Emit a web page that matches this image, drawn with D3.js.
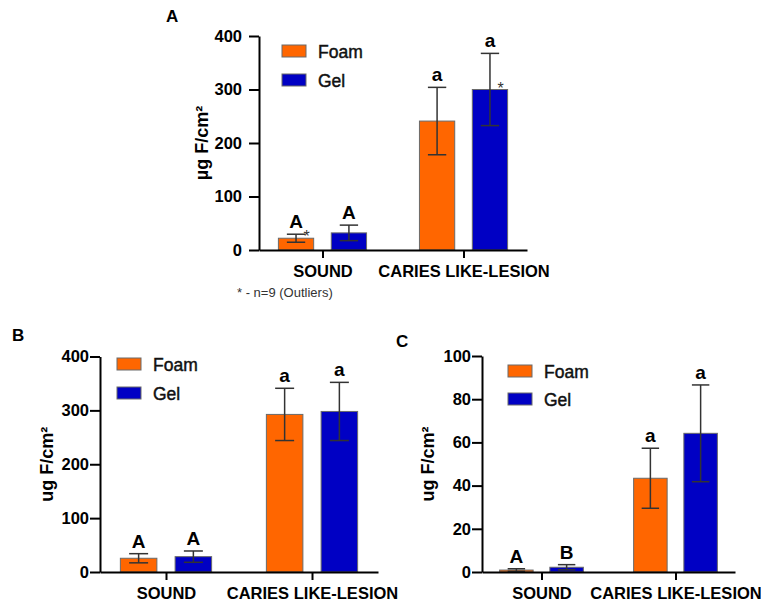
<!DOCTYPE html>
<html>
<head>
<meta charset="utf-8">
<script src="https://cdn.jsdelivr.net/npm/d3@7"></script>
<style>
  body { margin: 0; background: #fff; }
  svg { display: block; font-family: "Liberation Sans", Arial, sans-serif; }
</style>
</head>
<body>
<svg width="761" height="602"></svg>
<script>
const categories = ["SOUND", "CARIES LIKE-LESION"]
const series = ["Foam", "Gel"]
const colors = ["#ff6600", "#0000c4"]

// panel A
const aFoam = [22, 241]
const aFoamSd = [7.5, 63]
const aGel = [32, 300]
const aGelSd = [14.5, 67.5]
const aLetters = [["A", "A"], ["a", "a"]]
const aStars = [["*", ""], ["", "*"]]
const aTicks = [0, 100, 200, 300, 400]

// panel B
const bFoam = [25.5, 292.5]
const bFoamSd = [8.5, 48.5]
const bGel = [28.5, 298]
const bGelSd = [10.5, 54]
const bLetters = [["A", "A"], ["a", "a"]]
const bTicks = [0, 100, 200, 300, 400]

// panel C
const cFoam = [0.9, 43.4]
const cFoamSd = [0.6, 13.9]
const cGel = [2.2, 64.2]
const cGelSd = [1.2, 22.4]
const cLetters = [["A", "B"], ["a", "a"]]
const cTicks = [0, 20, 40, 60, 80, 100]

function rows(foam, foamSd, gel, gelSd, letters, stars) {
    const out = []
    categories.forEach(function(c, i) {
        out.push({cat: c, s: "Foam", v: foam[i], sd: foamSd[i], letter: letters[i][0], star: stars ? stars[i][0] : ""})
        out.push({cat: c, s: "Gel", v: gel[i], sd: gelSd[i], letter: letters[i][1], star: stars ? stars[i][1] : ""})
    })
    return out
}

const panels = [
    {name: "A", title: "µg F/cm²", data: rows(aFoam, aFoamSd, aGel, aGelSd, aLetters, aStars), ticks: aTicks,
     labelX: 166, labelY: 22, x0: 259, x1: 527, pad: 0.45, yTop: 36, yBot: 250, tickPad: 7,
     legX: 282, legY: 45, legGap: 29, titleX: 208},
    {name: "B", title: "ug F/cm²", data: rows(bFoam, bFoamSd, bGel, bGelSd, bLetters), ticks: bTicks,
     labelX: 12, labelY: 341, x0: 100, x1: 378, pad: 0.452, yTop: 356.5, yBot: 572, tickPad: 1,
     legX: 117, legY: 358, legGap: 29, titleX: 53},
    {name: "C", title: "ug F/cm²", data: rows(cFoam, cFoamSd, cGel, cGelSd, cLetters), ticks: cTicks,
     labelX: 396, labelY: 347, x0: 482, x1: 735, pad: 0.444, yTop: 356, yBot: 572, tickPad: 1,
     legX: 508, legY: 365, legGap: 28, titleX: 434}
]

const svg = d3.select("svg")
svg.append("rect").attr("width", 761).attr("height", 602).attr("fill", "#fff")

const color = d3.scaleOrdinal().domain(series).range(colors)

panels.forEach(function(p) {
    const g = svg.append("g")

    const x = d3.scalePoint().domain(categories).range([p.x0, p.x1]).padding(p.pad)
    const step = x.step()
    const xSub = d3.scaleBand().domain(series)
        .range([-0.3125 * step, 0.3125 * step]).paddingInner(0.333)
    const bw = xSub.bandwidth()
    const y = d3.scaleLinear().domain([0, d3.max(p.ticks)]).range([p.yBot, p.yTop])

    // panel letter
    g.append("text").attr("x", p.labelX).attr("y", p.labelY)
        .attr("font-size", 17).attr("font-weight", "bold").text(p.name)

    // bars
    g.selectAll("rect.bar").data(p.data).join("rect")
        .attr("class", "bar")
        .attr("x", function(d) { return x(d.cat) + xSub(d.s) })
        .attr("y", function(d) { return y(d.v) })
        .attr("width", bw)
        .attr("height", function(d) { return y(0) - y(d.v) })
        .attr("fill", function(d) { return color(d.s) })
        .attr("stroke", "#6a6a6a").attr("stroke-width", 1)

    // error bars
    const eb = g.selectAll("g.err").data(p.data).join("g").attr("class", "err")
        .attr("stroke", "#333").attr("stroke-width", 1.5)
    const cx = function(d) { return x(d.cat) + xSub(d.s) + bw / 2 }
    eb.append("line")
        .attr("x1", cx).attr("x2", cx)
        .attr("y1", function(d) { return y(d.v + d.sd) })
        .attr("y2", function(d) { return y(Math.max(0, d.v - d.sd)) })
    eb.append("line")
        .attr("x1", function(d) { return cx(d) - bw * 0.26 })
        .attr("x2", function(d) { return cx(d) + bw * 0.26 })
        .attr("y1", function(d) { return y(d.v + d.sd) })
        .attr("y2", function(d) { return y(d.v + d.sd) })
    eb.append("line")
        .attr("x1", function(d) { return cx(d) - bw * 0.26 })
        .attr("x2", function(d) { return cx(d) + bw * 0.26 })
        .attr("y1", function(d) { return y(Math.max(0, d.v - d.sd)) })
        .attr("y2", function(d) { return y(Math.max(0, d.v - d.sd)) })

    // significance letters
    g.selectAll("text.sig").data(p.data).join("text")
        .attr("class", "sig")
        .attr("x", cx)
        .attr("y", function(d) { return y(d.v + d.sd) - 6 })
        .attr("text-anchor", "middle")
        .attr("font-size", 19).attr("font-weight", "bold")
        .text(function(d) { return d.letter })

    // outlier stars
    g.selectAll("text.star").data(p.data.filter(function(d) { return d.star })).join("text")
        .attr("class", "star")
        .attr("x", function(d) { return x(d.cat) + xSub(d.s) + bw - 7 })
        .attr("y", function(d) { return y(d.v) + 4 })
        .attr("text-anchor", "middle")
        .attr("font-size", 16).attr("fill", "#333")
        .text(function(d) { return d.star })

    // y axis
    const ya = g.append("g").attr("transform", "translate(" + p.x0 + ",0)")
        .call(d3.axisLeft(y).tickValues(p.ticks).tickSize(10).tickSizeOuter(0).tickPadding(p.tickPad))
    ya.select(".domain").attr("stroke", "#000").attr("stroke-width", 2)
    ya.selectAll(".tick line").attr("stroke", "#000").attr("stroke-width", 2)
    ya.selectAll(".tick text").attr("font-size", 16.5).attr("font-weight", "bold")
        .attr("font-family", "Liberation Sans, Arial, sans-serif").attr("fill", "#000")

    // x axis
    const xa = g.append("g").attr("transform", "translate(0," + p.yBot + ")")
        .call(d3.axisBottom(x).tickSize(8).tickSizeOuter(0).tickPadding(7))
    xa.select(".domain").attr("stroke", "#000").attr("stroke-width", 2)
    xa.selectAll(".tick line").attr("stroke", "#000").attr("stroke-width", 2)
    xa.selectAll(".tick text").attr("font-size", 16.5).attr("font-weight", "bold")
        .attr("font-family", "Liberation Sans, Arial, sans-serif").attr("fill", "#000")

    // y title
    g.append("text")
        .attr("transform", "translate(" + p.titleX + "," + (p.yTop + p.yBot) / 2 + ") rotate(-90)")
        .attr("text-anchor", "middle")
        .attr("font-size", 18).attr("font-weight", "bold")
        .text(p.title)

    // legend
    const lg = g.selectAll("g.leg").data(series).join("g").attr("class", "leg")
        .attr("transform", function(d, i) { return "translate(" + p.legX + "," + (p.legY + i * p.legGap) + ")" })
    lg.append("rect").attr("width", 24).attr("height", 12)
        .attr("fill", function(d) { return color(d) })
        .attr("stroke", "#6a6a6a").attr("stroke-width", 1)
    lg.append("text").attr("x", 36).attr("y", 12.5)
        .attr("font-size", 17.5).attr("fill", "#111")
        .attr("stroke", "#111").attr("stroke-width", 0.45)
        .text(function(d) { return d })
})

// footnote under panel A
svg.append("text").attr("x", 237).attr("y", 297)
    .attr("font-size", 13).attr("fill", "#333")
    .text("* - n=9 (Outliers)")
</script>
</body>
</html>
